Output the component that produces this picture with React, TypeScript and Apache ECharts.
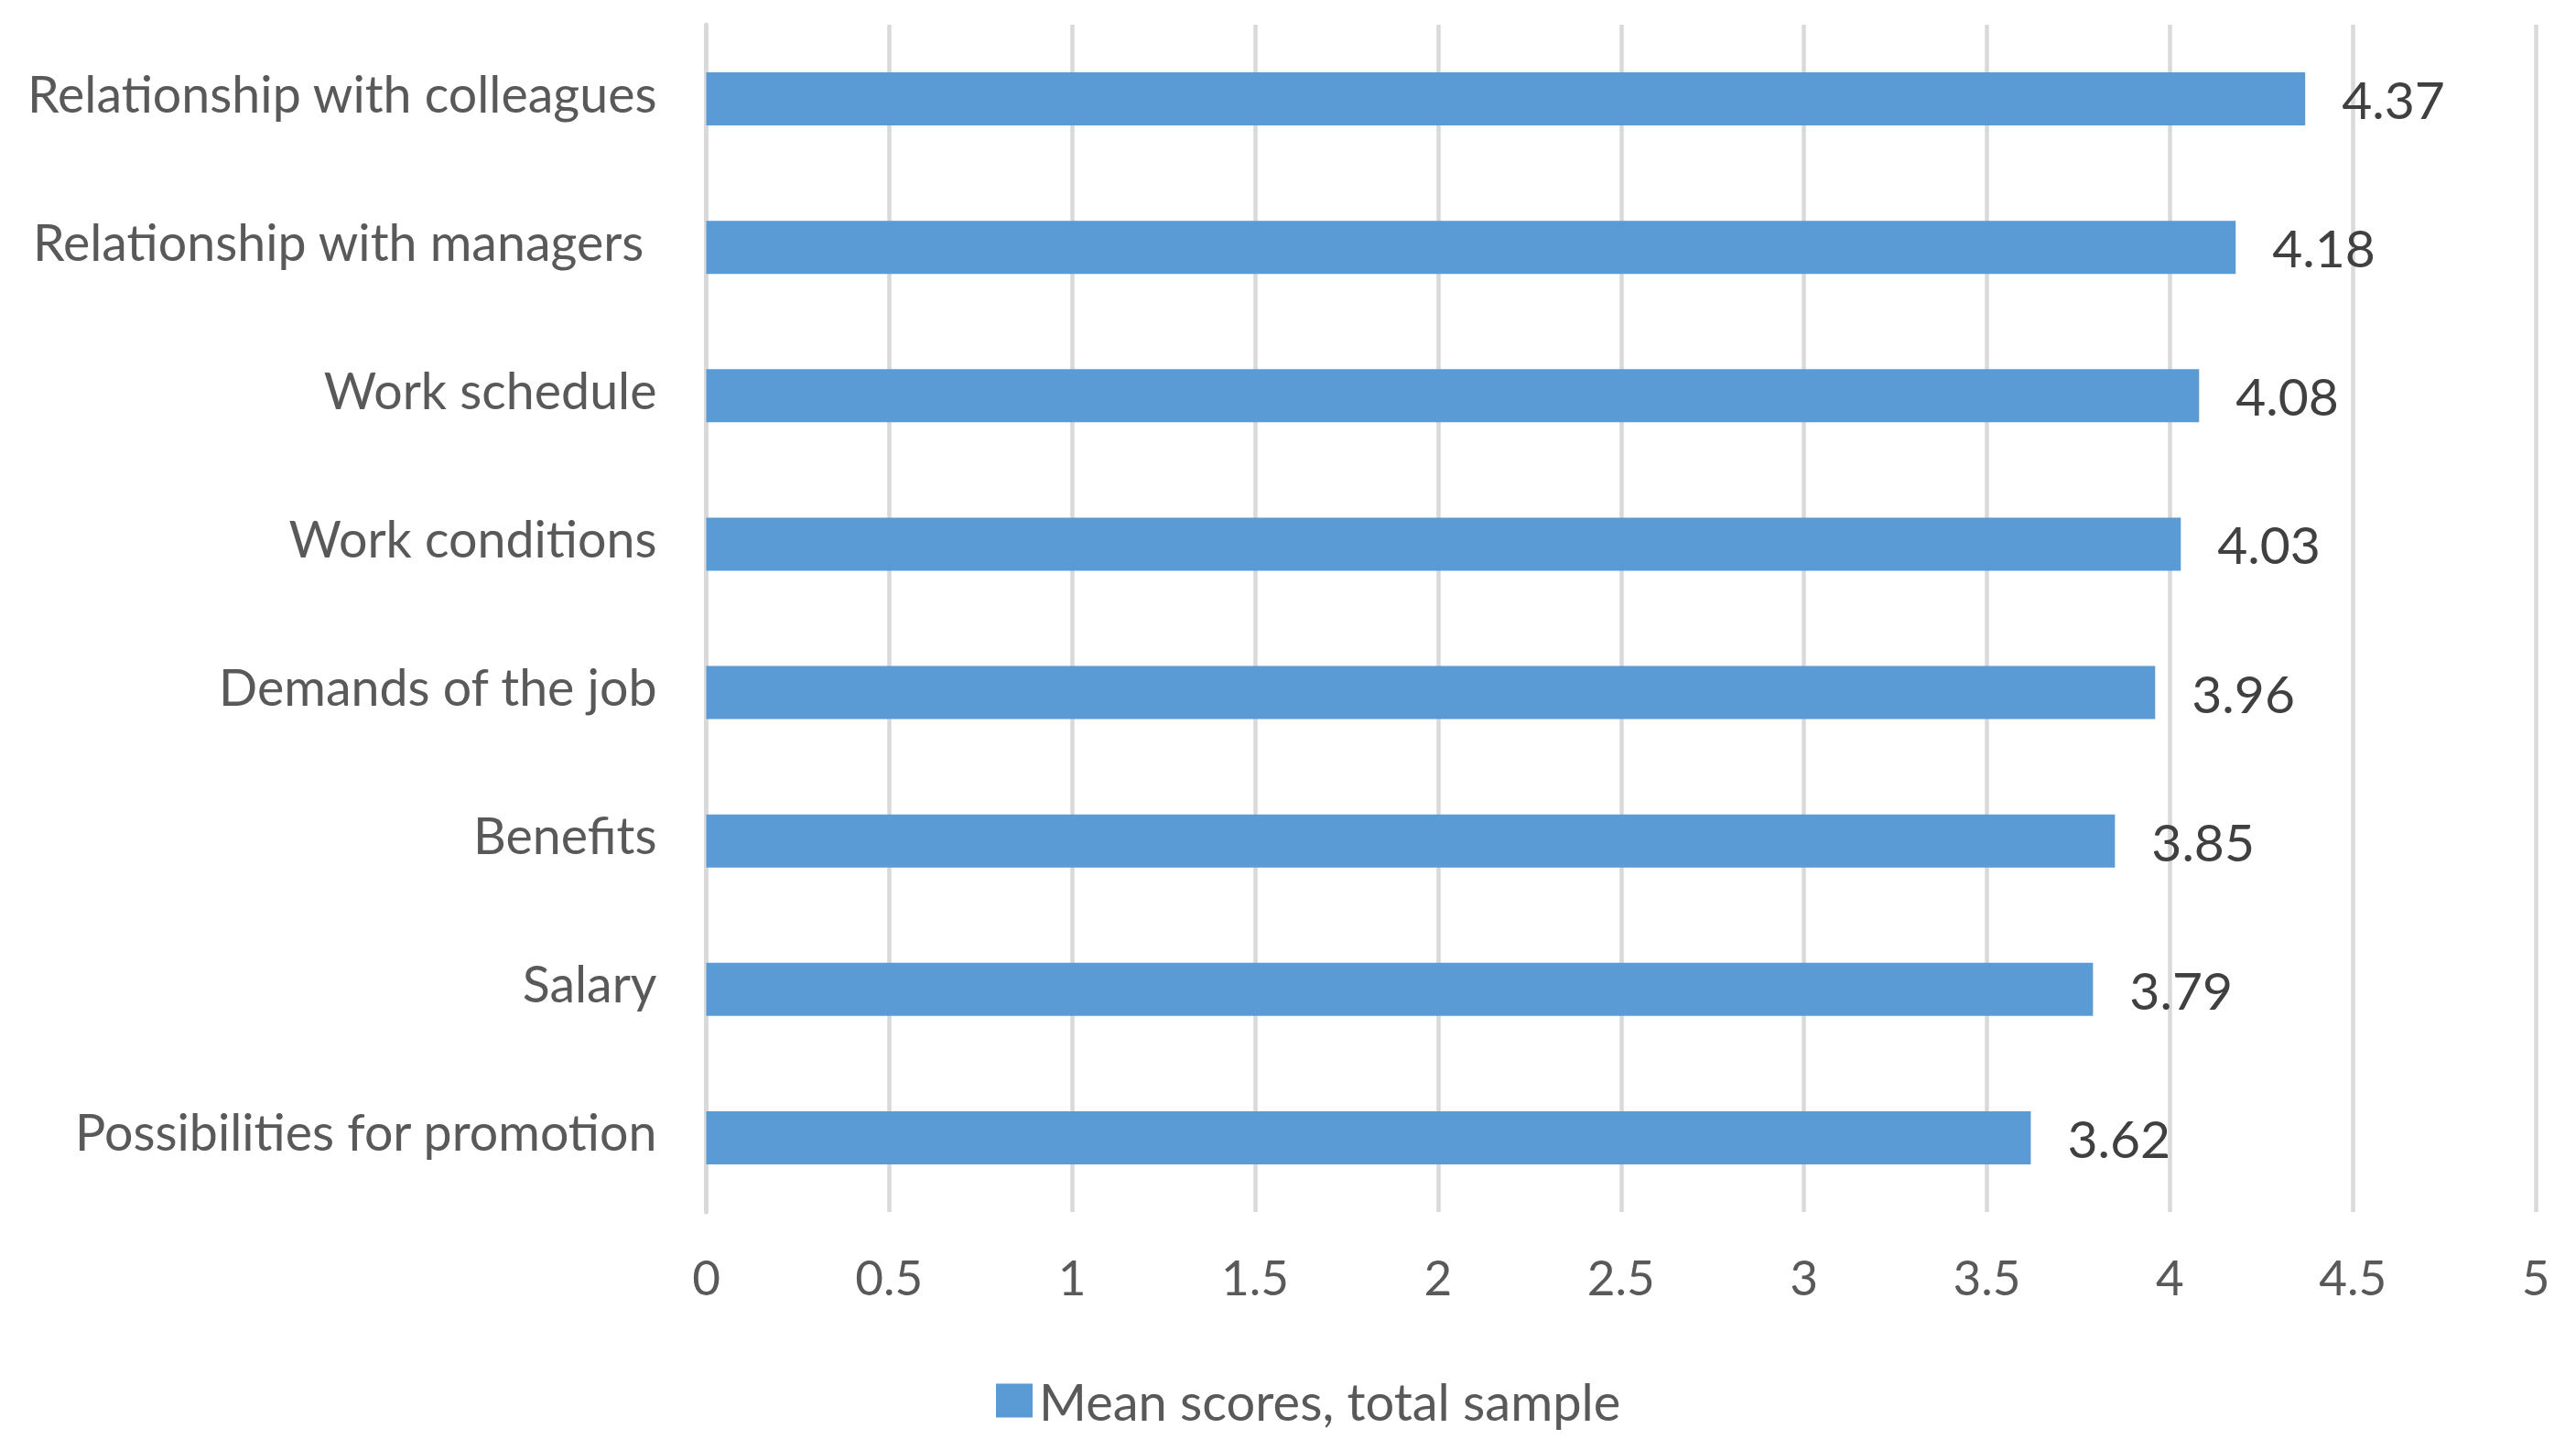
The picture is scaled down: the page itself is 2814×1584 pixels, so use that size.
import React, { useEffect, useRef } from "react";
import * as echarts from "echarts";

const categories = [
  "Relationship with colleagues",
  "Relationship with managers ",
  "Work schedule",
  "Work conditions",
  "Demands of the job",
  "Benefits",
  "Salary",
  "Possibilities for promotion",
];
const meanScores = [4.37, 4.18, 4.08, 4.03, 3.96, 3.85, 3.79, 3.62];
const seriesName = "Mean scores, total sample";

const FONT = "Lato, 'Noto Sans', sans-serif";

export default function App() {
  const ref = useRef<HTMLDivElement>(null);
  useEffect(() => {
    if (!ref.current) return;
    const chart = echarts.init(ref.current, undefined, { renderer: "svg" });
    chart.setOption({
      animation: false,
      backgroundColor: "#ffffff",
      textStyle: { fontFamily: FONT },
      grid: { left: 771.5, right: 44, top: 27, bottom: 260, containLabel: false },
      legend: {
        data: [seriesName],
        left: 1083,
        top: 1497,
        icon: "rect",
        itemWidth: 40,
        itemHeight: 37,
        itemGap: 10,
        textStyle: { fontFamily: FONT, fontSize: 56, color: "#595959", padding: [0, 0, 0, 2] },
      },
      xAxis: {
        type: "value",
        min: 0,
        max: 5,
        interval: 0.5,
        axisLine: { show: false },
        axisTick: { show: false },
        splitLine: { show: true, lineStyle: { color: "#d9d9d9", width: 4.5 } },
        axisLabel: { fontFamily: FONT, fontSize: 53, color: "#595959", margin: 44 },
      },
      yAxis: {
        type: "category",
        inverse: true,
        data: categories,
        axisLine: { show: true, lineStyle: { color: "#d9d9d9", width: 5 } },
        axisTick: { show: false },
        axisLabel: {
          margin: 54,
          formatter: (v: string) => "{c|" + v + "}",
          rich: {
            c: {
              fontFamily: FONT,
              fontSize: 55.5,
              color: "#595959",
              padding: [0, 0, 14, 0],
            },
          },
        },
      },
      series: [
        {
          name: seriesName,
          type: "bar",
          data: meanScores,
          barWidth: 58,
          itemStyle: { color: "#5B9BD5" },
          label: {
            show: true,
            position: "right",
            distance: 40,
            fontFamily: FONT,
            fontSize: 57,
            color: "#404040",
            formatter: (p: any) => p.value.toFixed(2),
          },
        },
      ],
    });
    return () => chart.dispose();
  }, []);
  return (
    <div
      ref={ref}
      style={{ position: "absolute", left: 0, top: 0, width: 2814, height: 1584 }}
    />
  );
}
